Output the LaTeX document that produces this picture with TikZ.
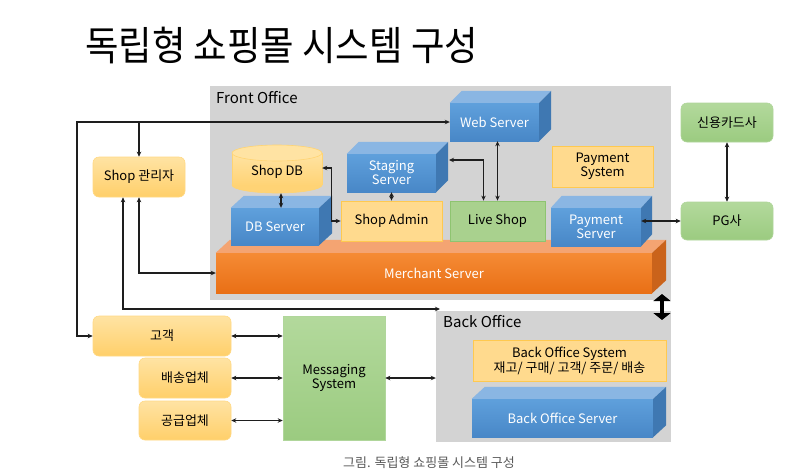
\documentclass[tikz,border=0pt]{standalone}
\usepackage{fontspec}
\setmainfont{Noto Sans CJK KR}
\usetikzlibrary{calc,arrows.meta}
\definecolor{officegray}{HTML}{D3D3D3}
\definecolor{bluetop}{HTML}{5FA0DC}
\definecolor{bluebot}{HTML}{4887C7}
\definecolor{bluelid}{HTML}{8AB6E3}
\definecolor{blueside}{HTML}{3F78B2}
\definecolor{orgtop}{HTML}{F58B35}
\definecolor{orgbot}{HTML}{E96F15}
\definecolor{orglid}{HTML}{F4A472}
\definecolor{orgside}{HTML}{CA631B}
\definecolor{ylwfill}{HTML}{FFDA8E}
\definecolor{ylwtop}{HTML}{FFE3A3}
\definecolor{ylwbot}{HTML}{FFCF6A}
\definecolor{ylwline}{HTML}{FFC94F}
\definecolor{grnfill}{HTML}{A9D18E}
\definecolor{grntop}{HTML}{B3D99C}
\definecolor{grnbot}{HTML}{9BCB80}
\definecolor{grnline}{HTML}{8EC470}
\definecolor{linecol}{HTML}{1E1E1E}
\definecolor{captioncol}{HTML}{595959}
\tikzset{
  box/.style={inner sep=0pt, align=center, font=\fontsize{13}{14}\selectfont},
  sz/.style 2 args={minimum width=#1pt, minimum height=#2pt},
  bluecube/.style={box, top color=bluetop, bottom color=bluebot, text=white},
  orgcube/.style={box, top color=orgtop, bottom color=orgbot, text=white},
  ylwbox/.style={box, fill=ylwfill, draw=ylwline, line width=0.8pt},
  ylwround/.style={box, top color=ylwtop, bottom color=ylwbot, draw=ylwline!70, line width=0.6pt, rounded corners=6pt},
  grnbox/.style={box, fill=grnfill, draw=grnline, line width=0.8pt},
  grnround/.style={box, top color=grntop, bottom color=grnbot, draw=grnline!70, line width=0.6pt, rounded corners=6pt},
  office/.style={fill=officegray, inner sep=0pt},
  conn/.style={draw=linecol, line width=1.1pt},
  arr/.style={conn, -{Stealth[length=5pt,width=4.5pt]}},
  biarr/.style={conn, {Stealth[length=5pt,width=4.5pt]}-{Stealth[length=5pt,width=4.5pt]}},
  bigarr/.style={draw=black, line width=4pt, {Triangle[length=7pt,width=17pt]}-{Triangle[length=7pt,width=17pt]}},
  lbl/.style={inner sep=0pt, anchor=west, font=\fontsize{15}{16}\selectfont}
}
\newcommand\cubefaces[5]{%
  \fill[#4] (#1.north west) -- ++(#2,-#3) -- ($(#1.north east)+(#2,-#3)$) -- (#1.north east) -- cycle;
  \fill[#5] (#1.north east) -- ++(#2,-#3) -- ($(#1.south east)+(#2,-#3)$) -- (#1.south east) -- cycle;}
\begin{document}
\begin{tikzpicture}[x=1pt,y=-1pt]
\useasboundingbox (0,0) rectangle (803,475);
\fill[white] (0,0) rectangle (803,475);
% title
\node (title) [inner sep=0pt, anchor=west, xscale=0.91, font=\fontsize{40}{44}\selectfont] at (85,45) {독립형 쇼핑몰 시스템 구성};
% office areas
\node (frontoffice) [office, sz={461}{214}] at (440.5,193) {};
\node (backoffice) [office, sz={235}{131}] at (553.5,376.5) {};
\node (fol) [lbl] at (216,98) {Front Office};
\node (bol) [lbl] at (443,322) {Back Office};
% merchant server
\node (merchant) [orgcube, sz={436}{40}] at (434,273) {Merchant Server};
\cubefaces{merchant}{14}{13}{orglid}{orgside}
% blue cubes
\node (web) [bluecube, sz={89}{38}] at (494.5,122) {Web Server};
\cubefaces{web}{12}{12}{bluelid}{blueside}
\node (staging) [bluecube, sz={89}{38}] at (391.5,173) {Staging\\Server};
\cubefaces{staging}{12}{12}{bluelid}{blueside}
\node (dbserver) [bluecube, sz={88}{37}] at (275,226.5) {DB Server};
\cubefaces{dbserver}{13}{12}{bluelid}{blueside}
\node (payserver) [bluecube, sz={90}{38}] at (596,227) {Payment\\Server};
\cubefaces{payserver}{11}{12}{bluelid}{blueside}
\node (bos) [bluecube, sz={181}{38}] at (562.5,418) {Back Office Server};
\cubefaces{bos}{13}{12}{bluelid}{blueside}
% shop db cylinder
\fill[ylwbot!80!ylwtop] (277,185) ellipse [x radius=45, y radius=8];
\draw[ylwline!80, line width=0.6pt] (277,185) ellipse [x radius=45, y radius=8];
\shade[top color=ylwtop, bottom color=ylwbot!80!ylwtop] (232,153) rectangle (322,185);
\draw[ylwline!80, line width=0.6pt] (232,153) -- (232,185) (322,153) -- (322,185);
\filldraw[fill=ylwtop, draw=ylwline!80, line width=0.6pt] (277,153) ellipse [x radius=45, y radius=8];
\node (shopdb) [box, sz={90}{42}] at (277,172) {Shop DB};
% flat boxes
\node (paysys) [ylwbox, sz={101}{41}] at (602.5,166.5) {Payment\\System};
\node (shopadmin) [ylwbox, sz={101}{40}] at (391.5,221) {Shop Admin};
\node (liveshop) [grnbox, sz={95}{40}] at (497.5,221) {Live Shop};
\node (bosys) [ylwbox, sz={193}{41}, font=\fontsize{13}{15}\selectfont] at (569.5,360.5) {Back Office System\\재고/ 구매/ 고객/ 주문/ 배송};
\node (admin) [ylwround, sz={92}{40}] at (139,177) {Shop 관리자};
\node (card) [grnround, sz={92}{39}] at (727,122.5) {신용카드사};
\node (pg) [grnround, sz={92}{38}] at (727,221) {PG사};
\node (gogaek) [ylwround, sz={138}{40}] at (162,336) {고객};
\node (delivery) [ylwround, sz={92}{40}] at (185,378) {배송업체};
\node (supply) [ylwround, sz={92}{39}] at (185,420.5) {공급업체};
\node (msg) [box, sz={102}{124}, top color=grntop, bottom color=grnbot, draw=grnline!70, line width=0.6pt] at (334,378) {Messaging\\System};
% connectors
\coordinate (leftcorner) at (77,122);
\draw[biarr] (web.west) -- (leftcorner) |- (gogaek.west);
\draw[arr] (admin.north |- web.west) -- (admin.north);
\draw[biarr] (admin.south) |- (merchant.west);
\coordinate (boentry) at (440,309);
\draw[biarr] ([xshift=-16pt]admin.south) |- (boentry);
\draw[biarr] ([xshift=4pt]shopdb.south) -- ([xshift=4pt]shopdb.south |- dbserver.north);
\draw[biarr] ([yshift=4pt]shopdb.east) -- ++(9,0) |- (shopadmin.west);
\draw[biarr] (staging.south) -- (staging.south |- shopadmin.north);
\coordinate (stgside) at (449,160);
\draw[biarr] (stgside) -| ([xshift=-14pt]liveshop.north);
\draw[biarr] (liveshop.north |- web.south) -- (liveshop.north);
\draw[biarr] (payserver.east |- pg.west) -- (pg.west);
\draw[biarr] (card.south) -- (pg.north);
\draw[biarr] (gogaek.east) -- (gogaek.east -| msg.west);
\draw[biarr] (delivery.east) -- (delivery.east -| msg.west);
\draw[biarr] (supply.east) -- (supply.east -| msg.west);
\draw[biarr] (msg.east) -- (msg.east -| backoffice.west);
\coordinate (ba1) at (662,294);
\coordinate (ba2) at (662,320);
\draw[bigarr] (ba1) -- (ba2);
% caption
\node (caption) [inner sep=0pt, text=captioncol, font=\fontsize{13}{14}\selectfont] at (429,463) {그림. 독립형 쇼핑몰 시스템 구성};
\end{tikzpicture}
\end{document}
